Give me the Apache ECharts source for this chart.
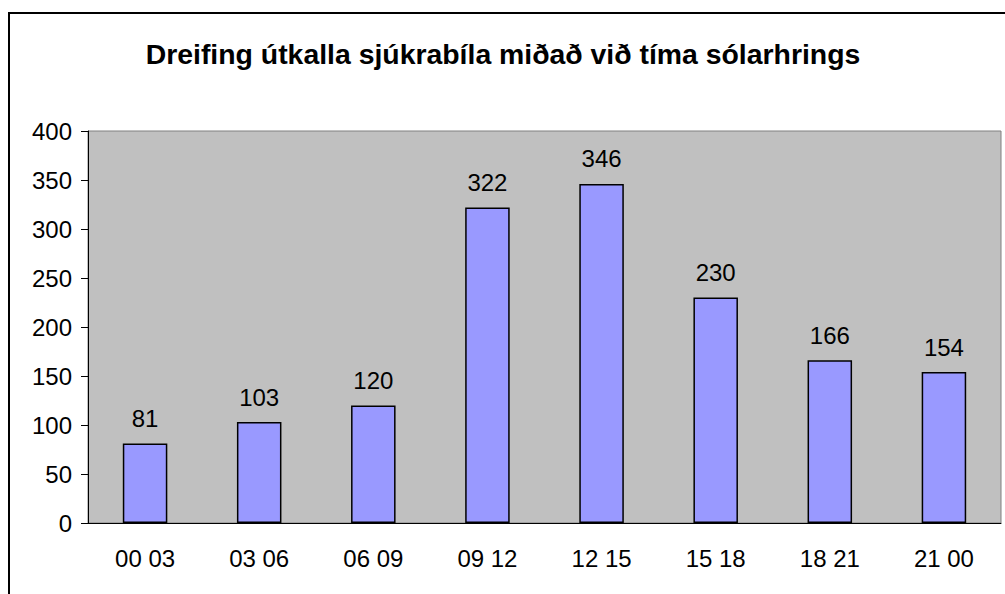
<!DOCTYPE html>
<html>
<head>
<meta charset="utf-8">
<script src="https://cdn.jsdelivr.net/npm/echarts@6/dist/echarts.min.js"></script>
<style>
  html, body { margin: 0; padding: 0; background: #fff; }
  #chart { width: 1005px; height: 594px; }
</style>
</head>
<body>
<div id="chart"></div>
<script>
const titleText = 'Dreifing útkalla sjúkrabíla miðað við tíma sólarhrings'
const categories = ['00 03', '03 06', '06 09', '09 12', '12 15', '15 18', '18 21', '21 00']
const calls = [81, 103, 120, 322, 346, 230, 166, 154]

const font = '"Liberation Sans", Arial, sans-serif'

const chart = echarts.init(document.getElementById('chart'), null, { renderer: 'svg' })
chart.setOption({
    animation: false,
    backgroundColor: '#fff',
    title: {
        text: titleText,
        left: 498,
        textAlign: 'center',
        top: 35,
        textStyle: { fontFamily: font, fontSize: 28.4, fontWeight: 'bold', color: '#000' }
    },
    graphic: [{
        type: 'rect',
        shape: { x: 9, y: 13, width: 1100, height: 700 },
        style: { fill: 'none', stroke: '#000', lineWidth: 2 },
        z: 100
    }],
    grid: {
        left: 88, right: 4, top: 131, bottom: 71,
        show: true,
        backgroundColor: '#C0C0C0',
        borderColor: '#808080',
        borderWidth: 1
    },
    xAxis: {
        type: 'category',
        data: categories,
        axisLine: { lineStyle: { color: '#000', width: 1 } },
        axisTick: { length: 7, lineStyle: { color: '#000' } },
        axisLabel: { margin: 23, fontFamily: font, fontSize: 24, color: '#000' }
    },
    yAxis: {
        type: 'value',
        min: 0, max: 400, interval: 50,
        splitLine: { show: false },
        axisLine: { show: true, lineStyle: { color: '#000', width: 1 } },
        axisTick: { show: true, length: 7, lineStyle: { color: '#000' } },
        axisLabel: { margin: 16, fontFamily: font, fontSize: 24, color: '#000' }
    },
    series: [{
        type: 'bar',
        data: calls,
        barWidth: '39%',
        itemStyle: { color: '#9999FF', borderColor: '#000', borderWidth: 1.5 },
        label: {
            show: true, position: 'top', distance: 13,
            fontFamily: font, fontSize: 24, color: '#000'
        }
    }]
})
</script>
</body>
</html>
